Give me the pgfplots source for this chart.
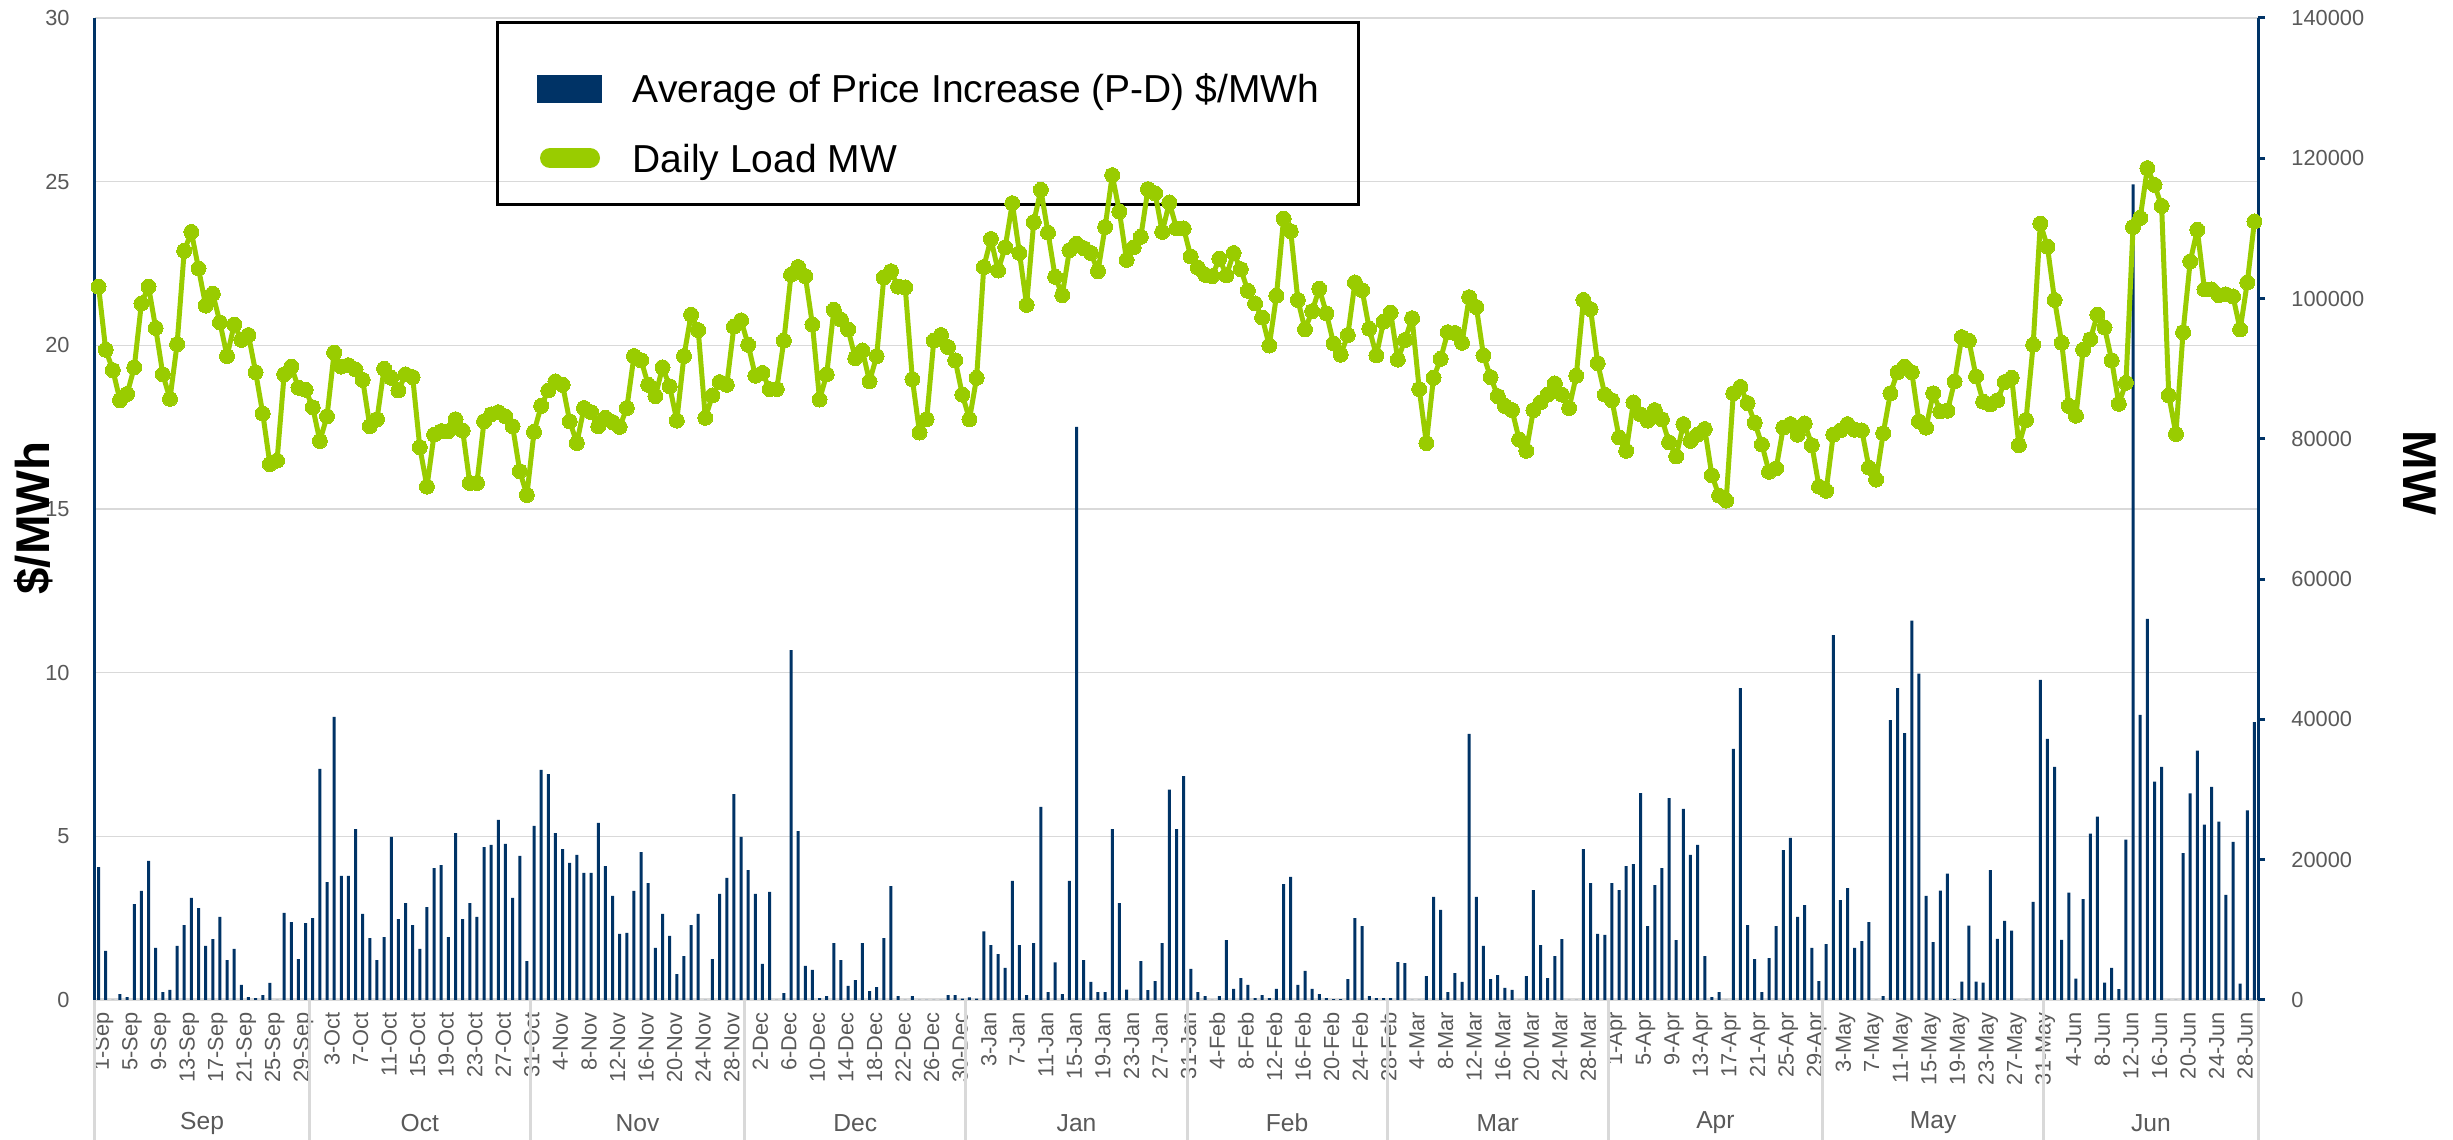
\documentclass[border=0pt]{standalone}
\usepackage{fontspec}
\setmainfont{Liberation Sans}
\usepackage{pgfplots}
\pgfplotsset{compat=1.18}
\usepackage{pgfplotstable}
\definecolor{navy}{RGB}{0,51,102}
\definecolor{lgreen}{RGB}{153,204,0}
\definecolor{gridgray}{RGB}{217,217,217}
\definecolor{tickgray}{RGB}{89,89,89}
\tikzset{month/.style={font=\fontsize{7}{8}\selectfont, text=tickgray, yshift=-12.3mm}}

\pgfplotstableread[row sep=\\]{
d p\\
0 4.06\\ 1 1.50\\ 2 0\\ 3 0.18\\ 4 0.09\\ 5 2.93\\ 6 3.33\\ 7 4.25\\ 8 1.59\\ 9 0.24\\
10 0.31\\ 11 1.65\\ 12 2.29\\ 13 3.12\\ 14 2.81\\ 15 1.65\\ 16 1.86\\ 17 2.54\\ 18 1.22\\ 19 1.56\\
20 0.46\\ 21 0.09\\ 22 0.06\\ 23 0.15\\ 24 0.52\\ 25 0\\ 26 2.66\\ 27 2.38\\ 28 1.25\\ 29 2.35\\
30 2.50\\ 31 7.06\\ 32 3.60\\ 33 8.65\\ 34 3.79\\ 35 3.79\\ 36 5.22\\ 37 2.63\\ 38 1.89\\ 39 1.22\\
40 1.92\\ 41 4.98\\ 42 2.47\\ 43 2.96\\ 44 2.29\\ 45 1.56\\ 46 2.84\\ 47 4.03\\ 48 4.12\\ 49 1.92\\
50 5.10\\ 51 2.47\\ 52 2.96\\ 53 2.54\\ 54 4.67\\ 55 4.74\\ 56 5.50\\ 57 4.77\\ 58 3.12\\ 59 4.40\\
60 1.19\\ 61 5.32\\ 62 7.03\\ 63 6.90\\ 64 5.10\\ 65 4.61\\ 66 4.19\\ 67 4.43\\ 68 3.88\\ 69 3.88\\
70 5.41\\ 71 4.09\\ 72 3.18\\ 73 2.02\\ 74 2.05\\ 75 3.33\\ 76 4.52\\ 77 3.57\\ 78 1.59\\ 79 2.63\\
80 1.96\\ 81 0.79\\ 82 1.34\\ 83 2.29\\ 84 2.63\\ 85 0\\ 86 1.25\\ 87 3.24\\ 88 3.73\\ 89 6.29\\
90 4.98\\ 91 3.97\\ 92 3.24\\ 93 1.10\\ 94 3.30\\ 95 0\\ 96 0.21\\ 97 10.69\\ 98 5.16\\ 99 1.04\\
100 0.92\\ 101 0.06\\ 102 0.12\\ 103 1.74\\ 104 1.22\\ 105 0.43\\ 106 0.61\\ 107 1.74\\ 108 0.27\\ 109 0.39\\
110 1.89\\ 111 3.48\\ 112 0.12\\ 113 0\\ 114 0.12\\ 115 0\\ 116 0\\ 117 0\\ 118 0\\ 119 0.15\\
120 0.15\\ 121 0.04\\ 122 0.08\\ 123 0.04\\ 124 2.10\\ 125 1.68\\ 126 1.40\\ 127 0.98\\ 128 3.64\\ 129 1.68\\
130 0.15\\ 131 1.74\\ 132 5.90\\ 133 0.24\\ 134 1.15\\ 135 0.18\\ 136 3.64\\ 137 17.51\\ 138 1.22\\ 139 0.55\\
140 0.24\\ 141 0.24\\ 142 5.22\\ 143 2.96\\ 144 0.32\\ 145 0\\ 146 1.19\\ 147 0.30\\ 148 0.58\\ 149 1.74\\
150 6.43\\ 151 5.22\\ 152 6.84\\ 153 0.95\\ 154 0.24\\ 155 0.12\\ 156 0\\ 157 0.12\\ 158 1.83\\ 159 0.34\\
160 0.67\\ 161 0.46\\ 162 0.06\\ 163 0.15\\ 164 0.06\\ 165 0.34\\ 166 3.54\\ 167 3.76\\ 168 0.46\\ 169 0.89\\
170 0.34\\ 171 0.18\\ 172 0.06\\ 173 0.03\\ 174 0.03\\ 175 0.64\\ 176 2.50\\ 177 2.26\\ 178 0.12\\ 179 0.06\\
180 0.06\\ 181 0.06\\ 182 1.16\\ 183 1.13\\ 184 0\\ 185 0\\ 186 0.73\\ 187 3.15\\ 188 2.75\\ 189 0.24\\
190 0.82\\ 191 0.55\\ 192 8.13\\ 193 3.15\\ 194 1.65\\ 195 0.64\\ 196 0.76\\ 197 0.37\\ 198 0.31\\ 199 0\\
200 0.73\\ 201 3.36\\ 202 1.68\\ 203 0.67\\ 204 1.34\\ 205 1.86\\ 206 0\\ 207 0\\ 208 4.61\\ 209 3.57\\
210 2.02\\ 211 1.99\\ 212 3.57\\ 213 3.36\\ 214 4.09\\ 215 4.15\\ 216 6.32\\ 217 2.26\\ 218 3.51\\ 219 4.03\\
220 6.17\\ 221 1.83\\ 222 5.84\\ 223 4.43\\ 224 4.74\\ 225 1.34\\ 226 0.09\\ 227 0.24\\ 228 0\\ 229 7.67\\
230 9.53\\ 231 2.29\\ 232 1.25\\ 233 0.24\\ 234 1.28\\ 235 2.26\\ 236 4.58\\ 237 4.95\\ 238 2.54\\ 239 2.90\\
240 1.59\\ 241 0.58\\ 242 1.71\\ 243 11.15\\ 244 3.05\\ 245 3.42\\ 246 1.59\\ 247 1.80\\ 248 2.38\\ 249 0\\
250 0.12\\ 251 8.55\\ 252 9.53\\ 253 8.15\\ 254 11.59\\ 255 9.97\\ 256 3.18\\ 257 1.77\\ 258 3.34\\ 259 3.86\\
260 0.03\\ 261 0.56\\ 262 2.27\\ 263 0.56\\ 264 0.53\\ 265 3.97\\ 266 1.87\\ 267 2.42\\ 268 2.12\\ 269 0\\
270 0\\ 271 3.00\\ 272 9.78\\ 273 7.98\\ 274 7.12\\ 275 1.84\\ 276 3.28\\ 277 0.65\\ 278 3.08\\ 279 5.08\\
280 5.60\\ 281 0.53\\ 282 0.98\\ 283 0.33\\ 284 4.90\\ 285 24.92\\ 286 8.71\\ 287 11.64\\ 288 6.67\\ 289 7.12\\
290 0\\ 291 0\\ 292 4.49\\ 293 6.31\\ 294 7.62\\ 295 5.36\\ 296 6.51\\ 297 5.45\\ 298 3.21\\ 299 4.83\\
300 0.50\\ 301 5.79\\ 302 8.49\\
}\pricetable

\pgfplotstableread[row sep=\\]{
d mw\\
0 101700\\ 1 92700\\ 2 89800\\ 3 85500\\ 4 86400\\ 5 90200\\ 6 99300\\ 7 101700\\ 8 95800\\ 9 89200\\
10 85700\\ 11 93500\\ 12 106800\\ 13 109500\\ 14 104300\\ 15 99000\\ 16 100700\\ 17 96600\\ 18 91800\\ 19 96300\\
20 94100\\ 21 94800\\ 22 89500\\ 23 83600\\ 24 76400\\ 25 76900\\ 26 89200\\ 27 90300\\ 28 87300\\ 29 87000\\
30 84500\\ 31 79700\\ 32 83200\\ 33 92300\\ 34 90300\\ 35 90500\\ 36 89900\\ 37 88400\\ 38 81800\\ 39 82800\\
40 90000\\ 41 88700\\ 42 86900\\ 43 89200\\ 44 88800\\ 45 78800\\ 46 73200\\ 47 80600\\ 48 81100\\ 49 81100\\
50 82800\\ 51 81200\\ 52 73700\\ 53 73700\\ 54 82500\\ 55 83500\\ 56 83800\\ 57 83200\\ 58 81800\\ 59 75400\\
60 72000\\ 61 81000\\ 62 84700\\ 63 86900\\ 64 88200\\ 65 87700\\ 66 82500\\ 67 79400\\ 68 84400\\ 69 83800\\
70 81800\\ 71 83000\\ 72 82400\\ 73 81700\\ 74 84400\\ 75 91800\\ 76 91200\\ 77 87700\\ 78 86100\\ 79 90200\\
80 87500\\ 81 82600\\ 82 91800\\ 83 97700\\ 84 95500\\ 85 83000\\ 86 86200\\ 87 88100\\ 88 87700\\ 89 96000\\
90 96900\\ 91 93400\\ 92 89000\\ 93 89400\\ 94 87100\\ 95 87100\\ 96 94000\\ 97 103400\\ 98 104500\\ 99 103200\\
100 96300\\ 101 85600\\ 102 89200\\ 103 98400\\ 104 97000\\ 105 95600\\ 106 91500\\ 107 92600\\ 108 88200\\ 109 91800\\
110 103000\\ 111 103900\\ 112 101700\\ 113 101600\\ 114 88500\\ 115 80900\\ 116 82800\\ 117 94000\\ 118 94800\\ 119 93100\\
120 91200\\ 121 86300\\ 122 82800\\ 123 88700\\ 124 104500\\ 125 108500\\ 126 104000\\ 127 107300\\ 128 113600\\ 129 106500\\
130 99100\\ 131 110900\\ 132 115500\\ 133 109400\\ 134 103100\\ 135 100500\\ 136 106900\\ 137 107800\\ 138 107200\\ 139 106500\\
140 103900\\ 141 110200\\ 142 117600\\ 143 112400\\ 144 105500\\ 145 107300\\ 146 108800\\ 147 115600\\ 148 115000\\ 149 109500\\
150 113700\\ 151 110000\\ 152 110000\\ 153 106000\\ 154 104400\\ 155 103400\\ 156 103200\\ 157 105700\\ 158 103300\\ 159 106500\\
160 104200\\ 161 101100\\ 162 99300\\ 163 97300\\ 164 93300\\ 165 100400\\ 166 111400\\ 167 109600\\ 168 99800\\ 169 95600\\
170 98200\\ 171 101400\\ 172 97900\\ 173 93600\\ 174 92000\\ 175 94800\\ 176 102300\\ 177 101200\\ 178 95700\\ 179 91900\\
180 96700\\ 181 98000\\ 182 91300\\ 183 94100\\ 184 97200\\ 185 87100\\ 186 79400\\ 187 88700\\ 188 91400\\ 189 95200\\
190 95100\\ 191 93700\\ 192 100200\\ 193 98800\\ 194 91900\\ 195 88800\\ 196 86100\\ 197 84700\\ 198 84100\\ 199 79900\\
200 78300\\ 201 84100\\ 202 85200\\ 203 86300\\ 204 87900\\ 205 86300\\ 206 84400\\ 207 89000\\ 208 99800\\ 209 98500\\
210 90800\\ 211 86300\\ 212 85500\\ 213 80200\\ 214 78300\\ 215 85200\\ 216 83500\\ 217 82600\\ 218 84100\\ 219 82800\\
220 79500\\ 221 77500\\ 222 82100\\ 223 79700\\ 224 80600\\ 225 81400\\ 226 74800\\ 227 71900\\ 228 71200\\ 229 86500\\
230 87400\\ 231 85100\\ 232 82300\\ 233 79200\\ 234 75300\\ 235 75800\\ 236 81600\\ 237 82100\\ 238 80600\\ 239 82200\\
240 79100\\ 241 73200\\ 242 72600\\ 243 80600\\ 244 81200\\ 245 82100\\ 246 81300\\ 247 81200\\ 248 75900\\ 249 74200\\
250 80800\\ 251 86500\\ 252 89500\\ 253 90300\\ 254 89500\\ 255 82500\\ 256 81600\\ 257 86500\\ 258 83900\\ 259 84000\\
260 88200\\ 261 94500\\ 262 94000\\ 263 88900\\ 264 85300\\ 265 84900\\ 266 85500\\ 267 88100\\ 268 88700\\ 269 79100\\
270 82700\\ 271 93400\\ 272 110700\\ 273 107400\\ 274 99800\\ 275 93700\\ 276 84700\\ 277 83300\\ 278 92700\\ 279 94200\\
280 97700\\ 281 95900\\ 282 91200\\ 283 85000\\ 284 88000\\ 285 110200\\ 286 111500\\ 287 118600\\ 288 116200\\ 289 113200\\
290 86200\\ 291 80700\\ 292 95200\\ 293 105300\\ 294 109800\\ 295 101300\\ 296 101300\\ 297 100500\\ 298 100600\\ 299 100300\\
300 95600\\ 301 102300\\ 302 111000\\
}\loadtable

\begin{document}
\begin{tikzpicture}
\begin{axis}[
  scale only axis, width=216.3mm, height=98.2mm,
  xmin=-0.5, xmax=302.5, ymin=0, ymax=30,
  axis y line*=left, axis x line*=bottom,
  every outer y axis line/.append style={navy, line width=0.3mm},
  every outer x axis line/.append style={gridgray, line width=0.3mm},
  clip=false,
  ytick={0,5,10,15,20,25,30},
  yticklabels={0,5,10,15,20,25,30},
  ytick style={draw=none},
  yticklabel style={font=\fontsize{6.2}{7}\selectfont, text=tickgray, xshift=-1.3mm},
  ymajorgrids, grid style={gridgray, line width=0.15mm},
  xtick={0,4,...,300},
  xtick style={draw=none},
  xticklabels={1-Sep,5-Sep,9-Sep,13-Sep,17-Sep,21-Sep,25-Sep,29-Sep,3-Oct,7-Oct,11-Oct,15-Oct,19-Oct,23-Oct,27-Oct,31-Oct,4-Nov,8-Nov,12-Nov,16-Nov,20-Nov,24-Nov,28-Nov,2-Dec,6-Dec,10-Dec,14-Dec,18-Dec,22-Dec,26-Dec,30-Dec,3-Jan,7-Jan,11-Jan,15-Jan,19-Jan,23-Jan,27-Jan,31-Jan,4-Feb,8-Feb,12-Feb,16-Feb,20-Feb,24-Feb,28-Feb,4-Mar,8-Mar,12-Mar,16-Mar,20-Mar,24-Mar,28-Mar,1-Apr,5-Apr,9-Apr,13-Apr,17-Apr,21-Apr,25-Apr,29-Apr,3-May,7-May,11-May,15-May,19-May,23-May,27-May,31-May,4-Jun,8-Jun,12-Jun,16-Jun,20-Jun,24-Jun,28-Jun},
  xticklabel style={rotate=90, anchor=east, font=\fontsize{6.2}{7}\selectfont, text=tickgray, yshift=-0.5mm},
]
\addplot[ybar, bar width=0.3mm, bar shift=0pt, fill=navy, draw=none] table[x=d, y=p]{\pricetable};
\pgfplotsinvokeforeach{-0.5,29.5,60.5,90.5,121.5,152.5,180.5,211.5,241.5,272.5,302.5}{
  \draw[gridgray, line width=0.3mm] (axis cs:#1,0) -- ([yshift=-14mm]axis cs:#1,0);
}
\node[month] at (axis cs:14.5,0) {Sep};
\node[month] at (axis cs:45,0) {Oct};
\node[month] at (axis cs:75.5,0) {Nov};
\node[month] at (axis cs:106,0) {Dec};
\node[month] at (axis cs:137,0) {Jan};
\node[month] at (axis cs:166.5,0) {Feb};
\node[month] at (axis cs:196,0) {Mar};
\node[month] at (axis cs:226.5,0) {Apr};
\node[month] at (axis cs:257,0) {May};
\node[month] at (axis cs:287.5,0) {Jun};
\end{axis}
% legend (transparent, below the load line)
\draw[black, line width=0.3mm] (40.2mm,79.5mm) rectangle (126.3mm,97.7mm);
\fill[navy] (44.2mm,89.7mm) rectangle (50.7mm,92.5mm);
\draw[lgreen, line width=2mm, line cap=round] (45.5mm,84.2mm) -- (49.5mm,84.2mm);
\node[anchor=base west, inner sep=0pt, font=\fontsize{11.1}{13}\selectfont] at (53.7mm,89.7mm) {Average of Price Increase (P-D) \$/MWh};
\node[anchor=base west, inner sep=0pt, font=\fontsize{11.1}{13}\selectfont] at (53.7mm,82.7mm) {Daily Load MW};
\begin{axis}[
  scale only axis, width=216.3mm, height=98.2mm,
  xmin=-0.5, xmax=302.5, ymin=0, ymax=140000,
  axis y line*=right, axis x line=none,
  every outer y axis line/.append style={navy, line width=0.3mm},
  scaled y ticks=false,
  ytick={0,20000,40000,60000,80000,100000,120000,140000},
  yticklabels={0,20000,40000,60000,80000,100000,120000,140000},
  tick align=outside, major tick length=0.7mm,
  ytick style={navy, line width=0.3mm},
  yticklabel style={font=\fontsize{6.2}{7}\selectfont, text=tickgray, xshift=1.4mm},
]
\addplot[lgreen, line width=0.5mm, line join=round, mark=*, mark size=0.75mm,
  mark options={fill=lgreen, draw=lgreen, line width=0pt}] table[x=d, y=mw]{\loadtable};
\end{axis}
% axis titles
\node[rotate=90, font=\bfseries\fontsize{13.5}{16}\selectfont] at (-6.1mm, 48.2mm) {\$/MWh};
\node[rotate=-90, font=\bfseries\fontsize{13.5}{16}\selectfont] at (232.5mm, 52.7mm) {MW};
\pgfresetboundingbox
\useasboundingbox (-9.5mm,-14mm) rectangle (235.8mm,100mm);
\end{tikzpicture}
\end{document}
